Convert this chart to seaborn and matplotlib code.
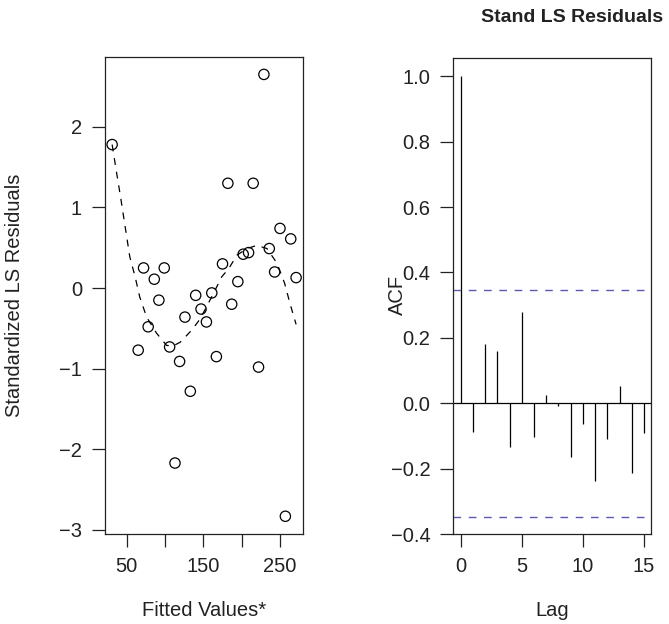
import matplotlib
matplotlib.use("Agg")
import matplotlib.pyplot as plt
import seaborn as sns
import pandas as pd

# ---- data ----
fitted = [31, 65, 72, 78, 86, 92, 99, 106, 113, 119, 126, 133, 140, 147, 154, 161,
          167, 175, 182, 187, 195, 202, 209, 215, 222, 229, 236, 243, 250, 257, 264, 271]
resid = [1.78, -0.77, 0.25, -0.48, 0.11, -0.15, 0.25, -0.73, -2.17, -0.91, -0.36, -1.28,
         -0.09, -0.26, -0.42, -0.06, -0.85, 0.30, 1.30, -0.20, 0.08, 0.42, 0.44, 1.30,
         -0.98, 2.65, 0.49, 0.20, 0.74, -2.83, 0.61, 0.13]

smooth_x = [31, 37, 42, 48, 54, 61, 67, 76, 89, 102, 110, 120, 135, 146, 163, 174,
            183, 194, 207, 220, 233, 246, 256, 263, 271]
smooth_y = [1.78, 1.42, 1.13, 0.76, 0.39, 0.14, -0.11, -0.36, -0.56, -0.71, -0.72,
            -0.67, -0.52, -0.38, -0.07, 0.14, 0.24, 0.41, 0.49, 0.53, 0.49, 0.31,
            0.06, -0.19, -0.45]

lags = list(range(16))
acf_vals = [1.0, -0.087, 0.181, 0.160, -0.133, 0.278, -0.102, 0.025, -0.010,
            -0.163, -0.065, -0.238, -0.109, 0.053, -0.212, -0.090]
conf = 0.347

x_ticks_left = [50, 100, 150, 200, 250]
x_labels_left = ["50", "", "150", "", "250"]
y_ticks_left = [-3, -2, -1, 0, 1, 2]
y_ticks_right = [-0.4, -0.2, 0.0, 0.2, 0.4, 0.6, 0.8, 1.0]
x_ticks_right = [0, 5, 10, 15]

# ---- style ----
sns.set_style("ticks")
plt.rcParams["font.family"] = ["Liberation Sans", "DejaVu Sans"]
plt.rcParams["axes.unicode_minus"] = True
FS = 14.5
W, H = 669, 624

fig = plt.figure(figsize=(W / 100, H / 100), dpi=100)

def frac(x0, y0, x1, y1):
    return [x0 / W, 1 - y1 / H, (x1 - x0) / W, (y1 - y0) / H]

ax1 = fig.add_axes(frac(105, 57, 303, 534))
ax2 = fig.add_axes(frac(453.3, 58, 651.3, 534))

# ---- left panel ----
df = pd.DataFrame({"fitted": fitted, "resid": resid})
sm = pd.DataFrame({"x": smooth_x, "y": smooth_y})
sns.lineplot(data=sm, x="x", y="y", ax=ax1, color="black", lw=0.9,
             sort=False, estimator=None, dashes=False)
ax1.lines[-1].set_dashes((5.5, 5.5))
sns.scatterplot(data=df, x="fitted", y="resid", ax=ax1, marker="o",
                facecolor="none", edgecolor="black", linewidth=0.9, s=55, zorder=3)

ax1.set_xlim(21.7, 280)
ax1.set_ylim(-3.05, 2.866)
ax1.set_xticks(x_ticks_left)
ax1.set_xticklabels(x_labels_left)
ax1.set_yticks(y_ticks_left)
ax1.set_xlabel("")
ax1.set_ylabel("")

# ---- right panel ----
ad = pd.DataFrame({"lag": lags, "acf": acf_vals})
ax2.vlines(ad["lag"], 0, ad["acf"], color="black", lw=0.9)
ax2.axhline(0, color="black", lw=0.9)
for c in (conf, -conf):
    ax2.axhline(c, color="#5a5ab4", lw=1.0, dashes=(5.5, 5.5))
ax2.set_xlim(-0.6, 15.6)
ax2.set_ylim(-0.4, 1.056)
ax2.set_xticks(x_ticks_right)
ax2.set_yticks(y_ticks_right)
ax2.set_yticklabels([f"{v:.1f}".replace("-", "\u2212") for v in y_ticks_right])

for ax in (ax1, ax2):
    for s in ax.spines.values():
        s.set_visible(True)
        s.set_linewidth(0.9)
        s.set_color("#222222")
    ax.tick_params(direction="out", length=9.5, width=0.9, color="#222222",
                   labelsize=FS, pad=7, labelcolor="#222222")

# ---- labels ----
fig.text(15 / W, 1 - 295 / H, "Standardized LS Residuals", rotation=90,
         ha="center", va="center", fontsize=FS, color="#222222")
fig.text(204 / W, 1 - 611 / H, "Fitted Values*", ha="center", va="center",
         fontsize=FS, color="#222222")
fig.text(397 / W, 1 - 295 / H, "ACF", rotation=90, ha="center", va="center",
         fontsize=FS, color="#222222")
fig.text(552 / W, 1 - 611 / H, "Lag", ha="center", va="center",
         fontsize=FS, color="#222222")
fig.text(572 / W, 1 - 17 / H, "Stand LS Residuals", ha="center", va="center",
         fontsize=14, fontweight="bold", color="#222222")

fig.savefig("out.png", dpi=100)
